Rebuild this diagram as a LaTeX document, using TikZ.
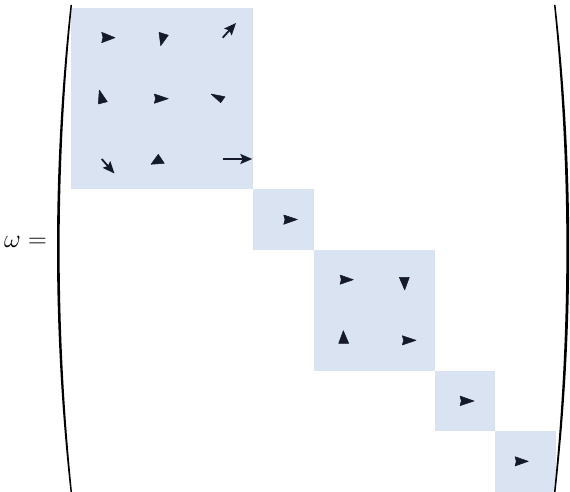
\documentclass[tikz,border=0pt]{standalone}
\usetikzlibrary{arrows.meta}
\definecolor{blockfill}{RGB}{218,227,242}
\definecolor{arr}{RGB}{20,26,42}
\tikzset{
  blk/.style={fill=blockfill, draw=none},
  head/.style={fill=arr, draw=arr, line width=0.5pt, line join=round},
  vec/.style={draw=arr, line width=2pt, -{Stealth[length=12pt,width=10pt,inset=2.5pt]}},
  paren/.style={fill=black, draw=none}
}
\begin{document}
\begin{tikzpicture}[x=1pt,y=-1pt]
\useasboundingbox (0,0) rectangle (570,492);
% blocks
\fill[blk] (71,8) rectangle (253,189);
\fill[blk] (253,189) rectangle (313.5,249.5);
\fill[blk] (313.5,249.5) rectangle (434.5,370.5);
\fill[blk] (434.5,370.5) rectangle (495,431);
\fill[blk] (495,431) rectangle (555.5,492);
% parentheses
\fill[paren] (70.5,5) .. controls (52.5,167.3) and (52.5,329.7) .. (70.5,492) -- (72,492) .. controls (55.5,329.7) and (55.5,167.3) .. (72,5) -- cycle;
\fill[paren] (555.5,5) .. controls (573.8,167.3) and (573.8,329.7) .. (555.5,492) -- (554,492) .. controls (570.5,329.7) and (570.5,167.3) .. (554,5) -- cycle;
% label
\node[font=\fontsize{20}{24}\selectfont, scale=1.25, anchor=west, inner sep=0pt] (lab) at (4,242) {$\omega =$};
% block 1 arrows
\filldraw[head] (101.7,32.3) -- (115,37.7) -- (101.7,42.7) -- (103,37.5) -- cycle;
\filldraw[head] (159,32.3) -- (168.3,35.2) -- (160.7,45.7) -- cycle;
\coordinate (a13s) at (222.7,37.7); \coordinate (a13e) at (236,23);
\draw[vec, line width=1.8pt, -{Stealth[length=12pt,width=10pt,inset=2pt]}] (a13s) -- (a13e);
\filldraw[head] (99.3,90) -- (107.3,101.7) -- (98.3,104) -- cycle;
\filldraw[head] (154.3,94) -- (168.3,98.7) -- (154.3,103.3) -- (155.5,98.6) -- cycle;
\filldraw[head] (211,94) -- (225,96.7) -- (220.7,102.7) -- cycle;
\coordinate (a31s) at (101.7,159); \coordinate (a31e) at (114.5,173.5);
\draw[vec, line width=1.8pt, -{Stealth[length=12pt,width=10pt,inset=2pt]}] (a31s) -- (a31e);
\filldraw[head] (151,164.3) -- (158.3,154.3) -- (164.3,163.3) -- cycle;
\coordinate (a33s) at (222.7,159); \coordinate (a33e) at (252.3,159);
\draw[vec] (a33s) -- (a33e);
% block 2
\filldraw[head] (283.7,215) -- (297.3,219.5) -- (283.7,224.3) -- (285,219.6) -- cycle;
% block 3
\filldraw[head] (340,275) -- (353.3,279.7) -- (340,284.3) -- (341.3,279.7) -- cycle;
\filldraw[head] (399.3,277.3) -- (409.3,277.3) -- (404.7,290) -- cycle;
\filldraw[head] (343.3,330.7) -- (348.7,343.3) -- (338.7,343.3) -- cycle;
\filldraw[head] (402.3,335.7) -- (416,340.3) -- (402.3,345) -- (403.6,340.3) -- cycle;
% block 4
\filldraw[head] (460,396) -- (474,401) -- (460,405.7) -- (461.3,400.9) -- cycle;
% block 5
\filldraw[head] (515,456.7) -- (528.3,461.3) -- (515,466) -- (516.3,461.3) -- cycle;
\end{tikzpicture}
\end{document}
